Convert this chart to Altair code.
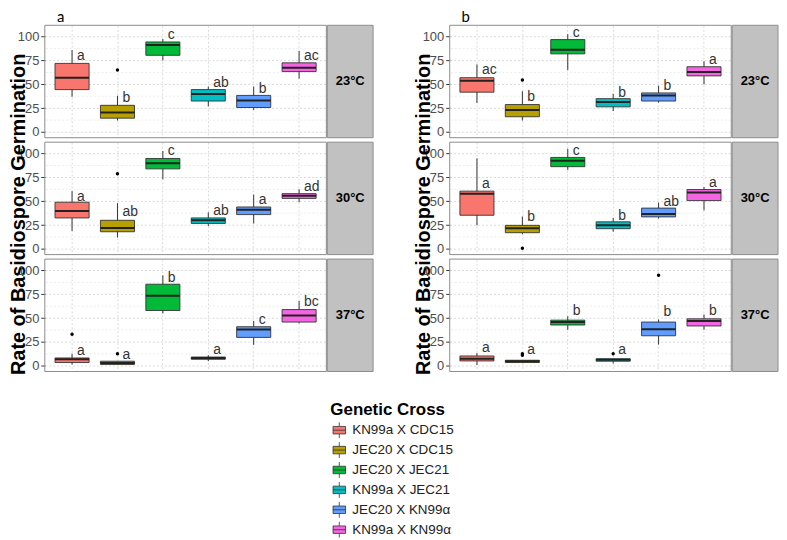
import altair as alt
import pandas as pd

crosses = ["KN99a X CDC15", "JEC20 X CDC15", "JEC20 X JEC21",
           "KN99a X JEC21", "JEC20 X KN99\u03b1", "KN99a X KN99\u03b1"]
temps = ["23°C", "30°C", "37°C"]
panels = ["a", "b"]
colors = ["#F8766D", "#B79F00", "#00BA38", "#00BFC4", "#619CFF", "#F564E3"]
y_ticks = [0, 25, 50, 75, 100]
minor_ticks = [12.5, 37.5, 62.5, 87.5]

# ---- panel a : per temperature, per cross ----
a_lo = [[37, 12, 75, 27, 23, 56], [18.8, 12, 73, 24, 26.7, 49], [1.4, 1, 55, 4.8, 22, 44.5]]
a_q1 = [[44.5, 14.5, 80.5, 32.5, 25.7, 63.4], [32.5, 18, 84, 26.7, 36, 53], [3.4, 1.4, 58, 6.8, 29.8, 45.9]]
a_med = [[57, 20.5, 91.4, 40, 33, 67.5], [39.7, 22, 90, 30, 41, 55.8], [6.8, 3, 73.6, 8.2, 38, 52.7]]
a_q3 = [[72, 28, 94.5, 44.5, 38.4, 72.6], [49, 30, 94.9, 32.5, 44, 58], [8.2, 4.8, 85.6, 9.2, 41, 59]]
a_hi = [[86, 38, 97.6, 47.6, 47.6, 85], [60.6, 48, 102.7, 38.4, 57, 62.7], [12.7, 4.8, 95, 11, 47, 68]]
a_letters = [["a", "b", "c", "ab", "b", "ac"], ["a", "ab", "c", "ab", "a", "ad"], ["a", "a", "b", "a", "c", "bc"]]
a_letter_y = [[76, 31.5, 97.6, 47, 41, 76], [50.7, 34, 98.6, 36, 47, 60.6], [11, 6.8, 88, 12.7, 43.5, 62.3]]
a_out_temp = ["23°C", "30°C", "37°C", "37°C"]
a_out_cross = [1, 1, 0, 1]
a_out_val = [65, 78.8, 33, 12.7]

# ---- panel b ----
b_lo = [[30.5, 12, 65, 22, 30.8, 50], [24.7, 15.4, 82.9, 18, 31.8, 40.4], [0.7, 3.4, 37.7, 2.4, 22.3, 37.7]]
b_q1 = [[41.8, 16, 82, 26.4, 32.5, 58.9], [35.3, 17, 86.3, 21.2, 33.6, 50.7], [5.1, 3.4, 42.8, 4.8, 31.5, 41.8]]
b_med = [[53.8, 23, 86.3, 31.5, 38.4, 63], [58, 21.6, 92.5, 24.7, 36.6, 59.2], [7.5, 4.8, 45.9, 6.2, 38.4, 46.9]]
b_q3 = [[57, 28.8, 97, 35, 41, 68.5], [60.6, 24.7, 96, 28.4, 42.8, 62.3], [10.3, 5.8, 47.9, 7.5, 45.9, 49.3]]
b_hi = [[71, 42.8, 102.7, 40, 48.6, 74.3], [95, 34, 105, 32.5, 48.6, 65], [13.4, 5.8, 52, 7.5, 48.6, 53.8]]
b_letters = [["ac", "b", "c", "b", "b", "a"], ["a", "b", "c", "b", "ab", "a"], ["a", "a", "b", "a", "b", "b"]]
b_letter_y = [[60.6, 32.5, 100, 36.6, 44, 71.6], [64.4, 29, 98.6, 30.8, 45.5, 65], [14.4, 12.7, 53.8, 12.7, 52, 53.8]]
b_out_temp = ["23°C", "30°C", "37°C", "37°C", "37°C", "37°C"]
b_out_cross = [1, 1, 1, 1, 3, 4]
b_out_val = [54.5, 0.7, 12.7, 11, 12.7, 95]

stats = {
    "a": (a_lo, a_q1, a_med, a_q3, a_hi, a_letters, a_letter_y),
    "b": (b_lo, b_q1, b_med, b_q3, b_hi, b_letters, b_letter_y),
}
outs = {"a": (a_out_temp, a_out_cross, a_out_val), "b": (b_out_temp, b_out_cross, b_out_val)}

rows = []
for p in panels:
    lo, q1, med, q3, hi, let, ly = stats[p]
    for ti, t in enumerate(temps):
        for ci, c in enumerate(crosses):
            rows.append(dict(panel=p, temp=t, cross=c, lo=lo[ti][ci], q1=q1[ti][ci],
                             med=med[ti][ci], q3=q3[ti][ci], hi=hi[ti][ci],
                             letter=let[ti][ci], ly=ly[ti][ci]))
df = pd.DataFrame(rows)
orows = []
for p in panels:
    ot, oc, ov = outs[p]
    for t, c, v in zip(ot, oc, ov):
        orows.append(dict(panel=p, temp=t, cross=crosses[c], v=v))
odf = pd.DataFrame(orows)

W, H = 283, 113
STRIP = 46
BOXW = W / 6.2 * 0.75
grid_col = "#dadada"

xsc = alt.Scale(domain=crosses, paddingInner=0.25, paddingOuter=0.225)
ysc = alt.Scale(domain=[-6, 112], nice=False, zero=False)
xax = alt.Axis(labels=False, ticks=False, domain=False, title=None, grid=True,
               bandPosition=0.5, gridColor=grid_col, gridDash=[2, 2])
yax = alt.Axis(values=y_ticks, title=None, domain=False, grid=True, gridColor=grid_col,
               gridDash=[2, 2], labelFontSize=13, labelColor="#4d4d4d", tickColor="#333333",
               tickSize=4, labelPadding=2)
box_path = "M-0.75,-0.45H0.75V0.45H-0.75Z M-0.75,0H0.75 M0,-0.45V-0.95 M0,0.45V0.95"
legend = alt.Legend(title="Genetic Cross", orient="none", legendX=287, legendY=379,
                    titleFontSize=17, titleFontWeight="bold", titleColor="black",
                    labelFontSize=13.5, labelColor="#222222", symbolType=box_path,
                    symbolSize=280, symbolStrokeColor="#333333", symbolStrokeWidth=0.8,
                    rowPadding=0, titlePadding=2, labelOffset=4)

one = pd.DataFrame({"k": [0]})


def X():
    return alt.X("cross:N", scale=xsc, axis=xax, sort=crosses)


def Y(f):
    return alt.Y(f + ":Q", scale=ysc, axis=yax)


def cell(p, ti):
    t = temps[ti]
    d = df[(df.panel == p) & (df.temp == t)]
    od = odf[(odf.panel == p) & (odf.temp == t)]
    base = alt.Chart(d)
    minor = alt.Chart(pd.DataFrame({"v": minor_ticks})).mark_rule(
        color="#ececec", strokeDash=[2, 2]).encode(y=Y("v"))
    whisk = base.mark_rule(color="#333333", strokeWidth=1).encode(x=X(), y=Y("lo"), y2="hi:Q")
    box = base.mark_bar(stroke="#333333", strokeWidth=0.9, opacity=1).encode(
        x=X(), y=Y("q1"), y2="q3:Q",
        color=alt.Color("cross:N", scale=alt.Scale(domain=crosses, range=colors), legend=legend))
    medl = base.mark_tick(color="#222222", thickness=2, size=BOXW, opacity=1).encode(x=X(), y=Y("med"))
    pts = alt.Chart(od).mark_circle(size=12, color="black", opacity=1).encode(x=X(), y=Y("v"))
    lets = base.mark_text(align="left", baseline="alphabetic", dx=5, fontSize=14,
                          color="#333333").encode(x=X(), y=Y("ly"), text="letter:N")
    border = alt.Chart(one).mark_rect(fill="transparent", stroke="#8c8c8c", strokeWidth=1).encode(
        x=alt.value(0), x2=alt.value(W), y=alt.value(0), y2=alt.value(H))
    strip = alt.Chart(one).mark_rect(fill="#c1c1c1", stroke="#8c8c8c", strokeWidth=1).encode(
        x=alt.value(W + 1), x2=alt.value(W + 1 + STRIP), y=alt.value(0), y2=alt.value(H))
    stxt = alt.Chart(one).mark_text(text=t, fontSize=13, fontWeight="bold", color="black").encode(
        x=alt.value(W + 1 + STRIP / 2), y=alt.value(H / 2))
    layers = [minor, whisk, box, medl, pts, lets, border, strip, stxt]
    if ti == 1:
        layers.append(alt.Chart(one).mark_text(
            text="Rate of Basidiospore Germination", angle=270, fontSize=20,
            fontWeight="bold", color="black").encode(x=alt.value(-26), y=alt.value(H / 2 + 16)))
    if ti == 0:
        layers.append(alt.Chart(one).mark_text(
            text=p, fontSize=15, font="Lato", color="black", baseline="alphabetic").encode(
            x=alt.value(16), y=alt.value(-3)))
    return alt.layer(*layers).properties(width=W, height=H)


cells = [cell(p, ti) for ti in range(3) for p in panels]
chart = alt.concat(*cells, columns=2, spacing={"row": 4.5, "column": 124},
                   bounds="flush").properties(padding=0).configure(
    font="Liberation Sans").configure_view(stroke="transparent")

chart.save("out.html", embed_options={"renderer": "svg", "actions": False})
